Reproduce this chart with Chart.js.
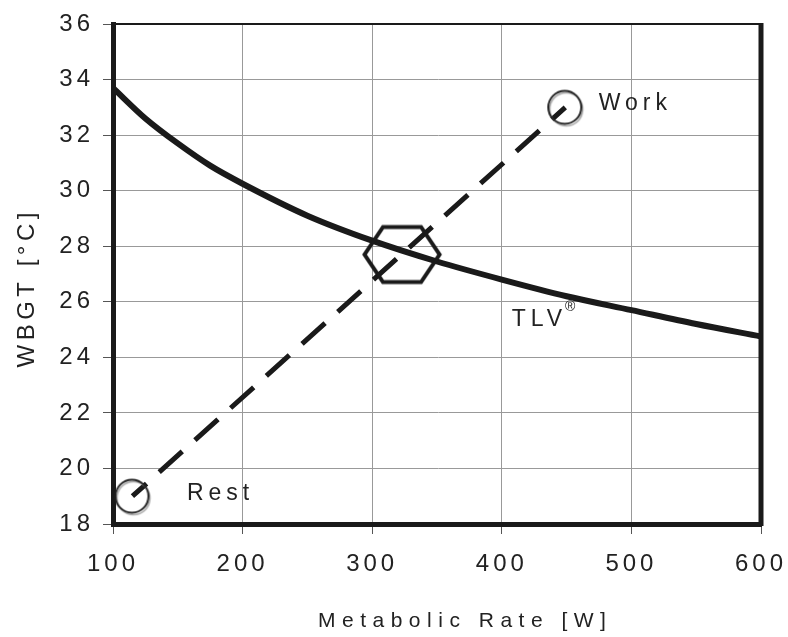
<!DOCTYPE html>
<html>
<head>
<meta charset="utf-8">
<script src="https://cdn.jsdelivr.net/npm/chart.js@4/dist/chart.umd.min.js"></script>
<style>
  html, body { margin: 0; padding: 0; background: #fff; }
  #wrap { width: 788px; height: 637px; }
</style>
</head>
<body>
<div id="wrap"><canvas id="chart" width="788" height="637"></canvas></div>
<script>
// TLV curve
const metabolicRate = [100, 125, 150, 175, 200, 250, 300, 350, 400, 450, 500, 550, 600];
const tlvWbgt = [33.7, 32.6, 31.7, 30.9, 30.25, 29.1, 28.2, 27.45, 26.8, 26.2, 25.7, 25.2, 24.75];

// work/rest path (dashed) and its end markers
const pathRate = [115, 449];
const pathWbgt = [19.0, 33.0];

// time-weighted average point (hexagon)
const avgRate = [323];
const avgWbgt = [27.7];

// annotation text anchors (data coords)
const noteText = ['Rest', 'Work', 'TLV'];
const noteRate = [183, 503, 429];
const noteWbgt = [19.1, 33.15, 25.35];

const xTicks = [100, 200, 300, 400, 500, 600];
const yTicks = [18, 20, 22, 24, 26, 28, 30, 32, 34, 36];

const INK = '#1a1a1a';
const FONT = 'Liberation Sans, Arial, sans-serif';

// circle marker with the light offset ghost seen in the scan
function circleMarker() {
  const c = document.createElement('canvas');
  c.width = 44; c.height = 44;
  const g = c.getContext('2d');
  g.lineWidth = 1.5;
  g.strokeStyle = '#aaa';
  g.beginPath(); g.arc(23, 24, 16.5, 0, Math.PI * 2); g.stroke();
  g.lineWidth = 2;
  g.strokeStyle = '#222';
  g.beginPath(); g.arc(21.5, 22, 16.5, 0, Math.PI * 2); g.stroke();
  return c;
}

function hexMarker() {
  const c = document.createElement('canvas');
  c.width = 86; c.height = 66;
  const g = c.getContext('2d');
  const cx = 43, cy = 33, hw = 37.5, tw = 19, hh = 27.5;
  g.lineWidth = 4;
  g.strokeStyle = INK;
  g.lineJoin = 'miter';
  g.beginPath();
  g.moveTo(cx - tw, cy - hh);
  g.lineTo(cx + tw, cy - hh);
  g.lineTo(cx + hw, cy);
  g.lineTo(cx + tw, cy + hh);
  g.lineTo(cx - tw, cy + hh);
  g.lineTo(cx - hw, cy);
  g.closePath();
  g.stroke();
  return c;
}

const toPoints = (xs, ys) => xs.map((x, i) => ({ x, y: ys[i] }));

// frame top/right edges, annotations and axis titles
const framePlugin = {
  id: 'frame',
  beforeDraw(chart) {
    chart.ctx.letterSpacing = '4px';
  },
  afterDraw(chart) {
    const { ctx, chartArea: a, scales } = chart;
    ctx.save();
    ctx.strokeStyle = INK;
    ctx.lineWidth = 2;
    ctx.beginPath();
    ctx.moveTo(a.left, a.top);
    ctx.lineTo(a.right, a.top);
    ctx.stroke();
    ctx.lineWidth = 5;
    ctx.beginPath();
    ctx.moveTo(a.right, a.top - 1);
    ctx.lineTo(a.right, a.bottom + 2);
    ctx.stroke();

    ctx.fillStyle = '#222';
    ctx.textBaseline = 'middle';
    ctx.textAlign = 'left';
    ctx.font = '23px ' + FONT;
    ctx.letterSpacing = '5px';
    noteText.forEach((t, i) => {
      const px = scales.x.getPixelForValue(noteRate[i]);
      const py = scales.y.getPixelForValue(noteWbgt[i]);
      const w = ctx.measureText(t).width;
      ctx.fillText(t, px - w / 2, py);
      if (t === 'TLV') {
        ctx.font = '14px ' + FONT;
        ctx.letterSpacing = '0px';
        ctx.fillText('®', px + w / 2 - 2, py - 13);
        ctx.font = '23px ' + FONT;
        ctx.letterSpacing = '5px';
      }
    });

    // axis titles
    ctx.font = '21px ' + FONT;
    ctx.letterSpacing = '6.5px';
    ctx.fillText('Metabolic Rate [W]', 318, 621);

    ctx.translate(27, 290);
    ctx.rotate(-Math.PI / 2);
    ctx.textAlign = 'left';
    ctx.font = '24px ' + FONT;
    ctx.letterSpacing = '4.5px';
    const tw = ctx.measureText('WBGT [°C]').width - 4.5;
    ctx.fillText('WBGT [°C]', -tw / 2, 0);
    ctx.restore();
    ctx.letterSpacing = '0px';
  },
};

new Chart(document.getElementById('chart'), {
  type: 'scatter',
  data: {
    datasets: [
      {
        label: 'average',
        data: toPoints(avgRate, avgWbgt),
        pointStyle: hexMarker(),
        pointRadius: 30,
        showLine: false,
      },
      {
        label: 'rest/work',
        data: toPoints(pathRate, pathWbgt),
        pointStyle: circleMarker(),
        pointRadius: 20,
        showLine: false,
      },
      {
        label: 'path',
        data: toPoints(pathRate, pathWbgt),
        showLine: true,
        borderColor: INK,
        borderWidth: 5,
        borderDash: [31, 17],
        borderDashOffset: 12,
        borderCapStyle: 'butt',
        pointRadius: 0,
      },
      {
        label: 'TLV',
        data: toPoints(metabolicRate, tlvWbgt),
        showLine: true,
        borderColor: INK,
        borderWidth: 6,
        cubicInterpolationMode: 'monotone',
        pointRadius: 0,
      },
    ],
  },
  options: {
    responsive: false,
    animation: false,
    layout: { autoPadding: false, padding: { top: 24, right: 27, bottom: 0, left: 0 } },
    plugins: {
      legend: { display: false },
      tooltip: { enabled: false },
    },
    scales: {
      x: {
        type: 'linear',
        min: 100,
        max: 600,
        afterBuildTicks: (s) => { s.ticks = xTicks.map((v) => ({ value: v })); },
        afterFit: (s) => { s.height = 113; },
        // small padding keeps the scale's own right margin under 27px;
        // the tall line height pushes the labels down instead
        ticks: { color: '#222', font: { family: FONT, size: 24, lineHeight: 2.1 }, padding: 5 },
        grid: { color: '#999', lineWidth: 1, tickLength: 10, tickColor: '#555' },
        border: { display: true, color: INK, width: 5 },
      },
      y: {
        min: 18,
        max: 36,
        afterBuildTicks: (s) => { s.ticks = yTicks.map((v) => ({ value: v })); },
        afterFit: (s) => { s.width = 113; },
        ticks: { color: '#222', font: { family: FONT, size: 24 }, padding: 9 },
        grid: { color: '#999', lineWidth: 1, tickLength: 10, tickColor: '#555' },
        border: { display: true, color: INK, width: 5 },
      },
    },
  },
  plugins: [framePlugin],
});
</script>
</body>
</html>
